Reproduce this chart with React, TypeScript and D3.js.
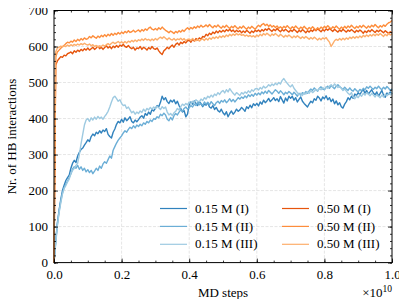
import React, { useEffect, useRef } from 'react'
import * as d3 from 'd3'

// MD steps in units of 1e10, one sample every 0.005
const steps = d3.range(201).map(i => i * 0.005)

// Nr. of HB interactions, 0.15 M runs
const lowI = [
  0, 60, 110, 145, 175, 200, 215, 228, 236, 243,
  262, 276, 284, 278, 296, 306, 314, 318, 326, 333,
  341, 336, 350, 357, 352, 362, 358, 366, 360, 368,
  364, 372, 356, 350, 346, 362, 371, 384, 392, 388,
  398, 390, 402, 394, 399, 405, 392, 388, 396, 391,
  397, 404, 408, 401, 414, 409, 418, 412, 425, 421,
  428, 436, 433, 445, 462, 452, 458, 447, 442, 451,
  446, 452, 441, 448, 436, 428, 418, 422, 405, 412,
  438, 446, 440, 449, 442, 436, 447, 441, 433, 440,
  437, 444, 432, 429, 436, 425, 431, 422, 418, 426,
  416, 410, 419, 405, 414, 421, 412, 418, 426, 420,
  424, 431, 426, 420, 433, 428, 437, 430, 441, 436,
  442, 435, 446, 440, 451, 444, 449, 456, 447, 452,
  458, 450, 455, 447, 461, 452, 443, 457, 449, 462,
  456, 462, 451, 458, 446, 453, 460, 448, 442, 437,
  432, 441, 448, 444, 455, 451, 462, 457, 449, 460,
  455, 463, 452, 458, 447, 454, 441, 449, 438, 444,
  433, 429, 440, 447, 458, 452, 462, 456, 468, 464,
  472, 466, 475, 481, 470, 478, 468, 474, 480, 471,
  466, 474, 462, 470, 478, 465, 459, 471, 467, 474,
  468
]
const lowII = [
  0, 58, 106, 142, 170, 193, 208, 218, 226, 236,
  246, 260, 266, 262, 270, 259, 266, 256, 262, 252,
  258, 250, 256, 247, 254, 262, 256, 268, 262, 274,
  280, 276, 286, 296, 290, 312, 322, 332, 340, 346,
  352, 360, 366, 362, 370, 376, 372, 380, 374, 382,
  378, 384, 380, 388, 384, 392, 388, 396, 392, 400,
  398, 405, 402, 412, 408, 415, 410, 398, 394, 403,
  396, 408, 414, 410, 418, 424, 420, 428, 432, 426,
  430, 436, 432, 440, 436, 444, 438, 442, 436, 446,
  440, 445, 438, 447, 441, 436, 444, 448, 442, 450,
  446, 452, 444, 449, 455, 447, 453, 446, 452, 458,
  454, 460, 456, 463, 458, 466, 461, 467, 462, 470,
  465, 471, 466, 474, 469, 476, 470, 478, 473, 468,
  474, 480, 476, 470, 477, 472, 466, 473, 469, 475,
  471, 466, 473, 468, 462, 470, 465, 472, 468, 475,
  470, 477, 482, 478, 485, 480, 476, 484, 488, 482,
  480, 486, 490, 484, 492, 487, 483, 490, 494, 488,
  485, 480, 487, 482, 478, 485, 479, 476, 483, 478,
  474, 481, 477, 484, 480, 488, 484, 490, 485, 481,
  487, 483, 490, 484, 480, 487, 482, 489, 484, 478,
  483
]
const lowIII = [
  0, 52, 102, 138, 166, 190, 206, 214, 224, 232,
  248, 256, 262, 270, 276, 300, 330, 356, 382, 396,
  400, 392, 402, 396, 404, 398, 406, 400, 404, 398,
  406, 412, 420, 432, 446, 458, 462, 455, 448, 452,
  442, 436, 438, 428, 432, 424, 416, 420, 412, 418,
  414, 421, 417, 426, 420, 428, 424, 431, 426, 432,
  428, 434, 430, 425, 433, 428, 432, 418, 410, 414,
  408, 416, 420, 428, 424, 433, 440, 436, 442, 438,
  446, 440, 448, 444, 452, 448, 446, 454, 450, 458,
  454, 462, 458, 465, 460, 468, 464, 472, 467, 474,
  478, 471, 480, 474, 483, 476, 470, 465, 472, 468,
  464, 472, 468, 474, 470, 477, 472, 480, 476, 482,
  484, 479, 486, 482, 490, 485, 488, 494, 490, 496,
  492, 498, 494, 500, 496, 506, 511, 504, 498, 492,
  488, 494, 484, 478, 472, 466, 470, 464, 472, 468,
  474, 470, 478, 472, 476, 481, 477, 484, 480, 486,
  482, 488, 484, 490, 494, 488, 496, 492, 486, 490,
  484, 478, 482, 476, 470, 466, 472, 460, 455, 462,
  458, 466, 462, 470, 465, 472, 468, 463, 470, 465,
  460, 467, 462, 458, 465, 460, 468, 463, 470, 466,
  472
]

// Nr. of HB interactions, 0.50 M runs
const highI = [
  0, 548, 560, 566, 572, 570, 576, 574, 580, 582,
  585, 580, 588, 584, 590, 586, 592, 588, 594, 590,
  596, 590, 594, 598, 592, 596, 601, 594, 598, 592,
  597, 602, 596, 600, 594, 601, 597, 603, 598, 604,
  601, 606, 600, 598, 603, 597, 594, 598, 590, 596,
  594, 600, 592, 598, 595, 590, 597, 593, 600, 594,
  592, 596, 588, 582, 578, 588, 592, 598, 594, 600,
  604, 598, 606, 610, 604, 612, 608, 614, 610, 616,
  617, 612, 620, 615, 622, 618, 624, 620, 628, 626,
  634, 630, 637, 633, 640, 636, 643, 638, 644, 640,
  645, 641, 647, 643, 648, 642, 646, 640, 645, 641,
  644, 638, 643, 639, 645, 641, 637, 643, 639, 645,
  642, 646, 641, 647, 643, 649, 645, 651, 646, 642,
  648, 644, 650, 645, 641, 647, 643, 648, 644, 640,
  646, 642, 648, 644, 639, 645, 641, 647, 643, 638,
  644, 640, 646, 642, 648, 644, 649, 645, 641, 647,
  643, 649, 645, 650, 646, 642, 648, 644, 640, 646,
  642, 648, 644, 640, 646, 642, 647, 643, 639, 645,
  641, 646, 642, 637, 643, 639, 645, 641, 647, 643,
  639, 645, 641, 646, 642, 638, 644, 640, 636, 641,
  638
]
const highII = [
  0, 570, 585, 590, 595, 600, 603, 608, 612, 610,
  615, 612, 618, 614, 620, 616, 622, 618, 624, 620,
  622, 628, 624, 630, 626, 623, 629, 625, 631, 627,
  633, 628, 634, 630, 636, 631, 637, 633, 639, 635,
  640, 636, 642, 638, 644, 639, 641, 645, 640, 643,
  646, 641, 647, 643, 649, 645, 651, 654, 648, 646,
  650, 646, 652, 648, 654, 649, 645, 642, 638, 643,
  640, 636, 642, 638, 644, 640, 646, 642, 648, 652,
  647, 653, 649, 655, 651, 657, 653, 659, 654, 656,
  660, 655, 661, 656, 652, 658, 654, 660, 655, 651,
  657, 653, 659, 654, 650, 656, 652, 658, 653, 649,
  655, 651, 657, 652, 648, 654, 650, 656, 652, 648,
  654, 659, 655, 661, 664, 658, 662, 656, 660, 654,
  658, 653, 657, 651, 655, 650, 656, 652, 658, 653,
  649, 655, 651, 657, 652, 648, 654, 650, 656, 651,
  647, 653, 649, 655, 650, 646, 652, 648, 654, 650,
  656, 652, 658, 653, 649, 655, 651, 657, 652, 648,
  654, 650, 656, 651, 657, 653, 659, 654, 650, 656,
  652, 658, 653, 659, 655, 651, 657, 653, 659, 655,
  661, 656, 652, 658, 654, 660, 656, 662, 666, 668,
  672
]
const highIII = [
  0, 585, 596, 598, 601, 599, 602, 600, 604, 601,
  605, 602, 606, 603, 607, 604, 608, 605, 609, 606,
  604, 607, 602, 605, 600, 603, 598, 602, 600, 604,
  601, 605, 608, 604, 609, 612, 608, 611, 614, 610,
  613, 609, 614, 610, 615, 612, 617, 613, 618, 614,
  619, 616, 621, 617, 622, 618, 620, 616, 621, 617,
  622, 618, 623, 626, 622, 627, 623, 619, 624, 620,
  618, 622, 617, 621, 619, 623, 618, 622, 616, 620,
  621, 617, 622, 618, 616, 620, 615, 619, 621, 617,
  622, 618, 624, 620, 626, 622, 627, 623, 629, 625,
  630, 626, 632, 628, 634, 630, 635, 631, 636, 632,
  635, 631, 633, 629, 632, 628, 631, 627, 630, 626,
  632, 628, 634, 630, 636, 632, 637, 633, 629, 635,
  631, 636, 632, 628, 634, 630, 626, 631, 627, 632,
  628, 624, 629, 625, 630, 626, 622, 627, 623, 628,
  624, 620, 625, 621, 626, 622, 618, 623, 619, 624,
  621, 625, 618, 612, 600, 608, 616, 620, 617, 622,
  618, 623, 619, 624, 620, 626, 622, 627, 623, 628,
  624, 629, 625, 631, 627, 632, 628, 633, 629, 634,
  630, 635, 631, 636, 632, 628, 634, 630, 636, 632,
  635
]

const labels = ['0.15 M (I)', '0.15 M (II)', '0.15 M (III)', '0.50 M (I)', '0.50 M (II)', '0.50 M (III)']
const colors = ['#3182bd', '#6baed6', '#9ecae1', '#e6550d', '#fd8d3c', '#fdae6b']
const xMajor = [0, 0.2, 0.4, 0.6, 0.8, 1.0]
const yMajor = [0, 100, 200, 300, 400, 500, 600, 700]

const FONT = "'Liberation Serif', 'DejaVu Serif', serif"

function HBChart () {
  const ref = useRef<SVGSVGElement>(null)

  useEffect(() => {
    const width = 407
    const height = 307
    const margin = { top: 10.5, right: 15, bottom: 44.4, left: 54 }
    const series = [lowI, lowII, lowIII, highI, highII, highIII]

    const svg = d3.select(ref.current)
    svg.selectAll('*').remove()
    svg.attr('width', width).attr('height', height)

    const x = d3.scaleLinear().domain([0, 1]).range([margin.left, width - margin.right])
    const y = d3.scaleLinear().domain([0, 700]).range([height - margin.bottom, margin.top])
    const [x0, x1] = x.range()
    const [y0, y1] = y.range()

    const xMinor = d3.range(0, 1.0001, 0.05)
    const yMinor = d3.range(0, 701, 20)

    // grid
    const grid = svg.append('g')
      .attr('stroke', '#d4d4d4')
      .attr('stroke-width', 0.6)
      .attr('stroke-dasharray', '3,1.5')
    grid.selectAll('.gx').data(xMajor.slice(1, -1)).enter().append('line')
      .attr('x1', d => x(d)).attr('x2', d => x(d)).attr('y1', y0).attr('y2', y1)
    grid.selectAll('.gy').data(yMajor.slice(1, -1)).enter().append('line')
      .attr('y1', d => y(d)).attr('y2', d => y(d)).attr('x1', x0).attr('x2', x1)

    // lines
    const line = d3.line<number>()
      .x((d, i) => x(steps[i]))
      .y(d => y(d))
    series.forEach((s, k) => {
      svg.append('path')
        .datum(s)
        .attr('fill', 'none')
        .attr('stroke', colors[k])
        .attr('stroke-width', 1.4)
        .attr('stroke-linejoin', 'round')
        .attr('d', line)
    })

    // axes, ticks pointing inward on all four sides
    const styleAxis = g => {
      g.select('.domain').remove()
      g.selectAll('line').attr('stroke', '#000').attr('stroke-width', 0.8)
      g.selectAll('text').attr('fill', '#000')
    }
    svg.append('g').attr('transform', `translate(0,${y0})`)
      .call(d3.axisBottom(x).tickValues(xMajor).tickSize(-4).tickPadding(7).tickFormat(d3.format('.1f')))
      .call(styleAxis)
    svg.append('g').attr('transform', `translate(0,${y0})`)
      .call(d3.axisBottom(x).tickValues(xMinor).tickSize(-2).tickFormat(() => ''))
      .call(styleAxis)
    svg.append('g').attr('transform', `translate(0,${y1})`)
      .call(d3.axisTop(x).tickValues(xMajor).tickSize(-4).tickFormat(() => ''))
      .call(styleAxis)
    svg.append('g').attr('transform', `translate(0,${y1})`)
      .call(d3.axisTop(x).tickValues(xMinor).tickSize(-2).tickFormat(() => ''))
      .call(styleAxis)
    svg.append('g').attr('transform', `translate(${x0},0)`)
      .call(d3.axisLeft(y).tickValues(yMajor).tickSize(-4).tickPadding(6))
      .call(styleAxis)
    svg.append('g').attr('transform', `translate(${x0},0)`)
      .call(d3.axisLeft(y).tickValues(yMinor).tickSize(-2).tickFormat(() => ''))
      .call(styleAxis)
    svg.append('g').attr('transform', `translate(${x1},0)`)
      .call(d3.axisRight(y).tickValues(yMajor).tickSize(-4).tickFormat(() => ''))
      .call(styleAxis)
    svg.append('g').attr('transform', `translate(${x1},0)`)
      .call(d3.axisRight(y).tickValues(yMinor).tickSize(-2).tickFormat(() => ''))
      .call(styleAxis)

    // frame
    svg.append('rect')
      .attr('x', x0).attr('y', y1)
      .attr('width', x1 - x0).attr('height', y0 - y1)
      .attr('fill', 'none').attr('stroke', '#000').attr('stroke-width', 1)

    // axis labels
    svg.append('text')
      .attr('x', (x0 + x1) / 2).attr('y', 297)
      .attr('text-anchor', 'middle')
      .text('MD steps')
    const off = svg.append('text')
      .attr('x', x1).attr('y', 297)
      .attr('text-anchor', 'end')
    off.append('tspan').text('×10')
    off.append('tspan').style('font-size', '9.5px').attr('dy', -5).text('10')
    svg.append('text')
      .attr('transform', `translate(16,${(y0 + y1) / 2}) rotate(-90)`)
      .attr('text-anchor', 'middle')
      .text('Nr. of HB interactions')

    // legend, two columns
    const legend = svg.append('g')
    labels.forEach((label, k) => {
      const col = Math.floor(k / 3)
      const row = k % 3
      const lx = col === 0 ? 160 : 282
      const ly = 208.5 + row * 17.9
      legend.append('line')
        .attr('x1', lx).attr('x2', lx + 27).attr('y1', ly).attr('y2', ly)
        .attr('stroke', colors[k]).attr('stroke-width', 1.2)
      legend.append('text')
        .attr('x', lx + 35).attr('y', ly).attr('dy', '0.32em')
        .text(label)
    })

    // every label in the serif face, 13px
    svg.selectAll('text')
      .attr('font-family', null)
      .style('font-family', FONT)
      .style('font-size', '13px')
    svg.selectAll('g')
      .attr('font-family', null)
      .attr('font-size', null)
    off.select('tspan:last-child').style('font-size', '9.5px')
  }, [])

  return <svg ref={ref} style={{ display: 'block', fontFamily: FONT }} />
}

export default function App () {
  return (
    <div style={{ margin: -8 }}>
      <HBChart />
    </div>
  )
}
